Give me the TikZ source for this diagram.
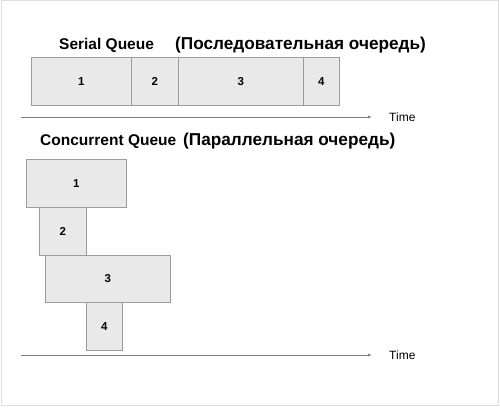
\documentclass[tikz,border=0pt]{standalone}
\usepackage{fontspec}
\setmainfont{Liberation Sans}
\usetikzlibrary{arrows.meta}
\definecolor{jobfill}{HTML}{E9E9E9}
\definecolor{jobline}{HTML}{9C9C9C}
\definecolor{axisline}{HTML}{7C7C7C}
\definecolor{frameline}{HTML}{DEDEDE}
\begin{document}
\begin{tikzpicture}[x=1pt,y=-1pt,
  job/.style={draw=jobline,fill=jobfill,line width=0.8pt,inner sep=0pt,
    anchor=north west,font=\bfseries\fontsize{11.5}{11.5}\selectfont},
  heading/.style={anchor=base west,inner sep=0pt,font=\bfseries\fontsize{15.5}{15.5}\selectfont},
  rusheading/.style={heading,font=\bfseries\fontsize{17.2}{17.2}\selectfont},
  timeaxis/.style={draw=axisline,line width=0.8pt,-{Latex[length=4pt,width=3pt]}},
  timelabel/.style={anchor=west,inner sep=0pt,font=\fontsize{12}{12}\selectfont}]
  \useasboundingbox (0,0) rectangle (500,409);
  \draw[frameline,line width=1pt] (1,1) rectangle (498,405);
  \def\job#1#2#3#4#5#6{\node[job,minimum width={(#5-#3)*1pt},
    minimum height={(#6-#4)*1pt}] (#1) at (#3,#4) {#2};}
  % Serial queue : one after another
  \node[heading] (sertitle) at (59,50) {Serial Queue};
  \node[rusheading] (serru) at (175,50) {(Последовательная очередь)};
  \job{s1}{1}{31}{57}{131}{105}
  \job{s2}{2}{131}{57}{178}{105}
  \job{s3}{3}{178}{57}{303}{105}
  \job{s4}{4}{303}{57}{339}{105}
  \coordinate (sa) at (21,117);
  \coordinate (sb) at (372,117);
  \draw[timeaxis] (sa) -- (sb);
  \node[timelabel] (stime) at (389,117) {Time};
  % Concurrent queue : overlapping
  \node[heading] (contitle) at (40,145) {Concurrent Queue};
  \node[rusheading] (conru) at (183,145) {(Параллельная очередь)};
  \job{c1}{1}{26}{159}{126}{207}
  \job{c2}{2}{39}{207}{86}{255}
  \job{c3}{3}{45}{255}{170}{302}
  \job{c4}{4}{86}{302}{122}{350}
  \coordinate (ca) at (21,355);
  \coordinate (cb) at (372,355);
  \draw[timeaxis] (ca) -- (cb);
  \node[timelabel] (ctime) at (389,355) {Time};
\end{tikzpicture}
\end{document}
